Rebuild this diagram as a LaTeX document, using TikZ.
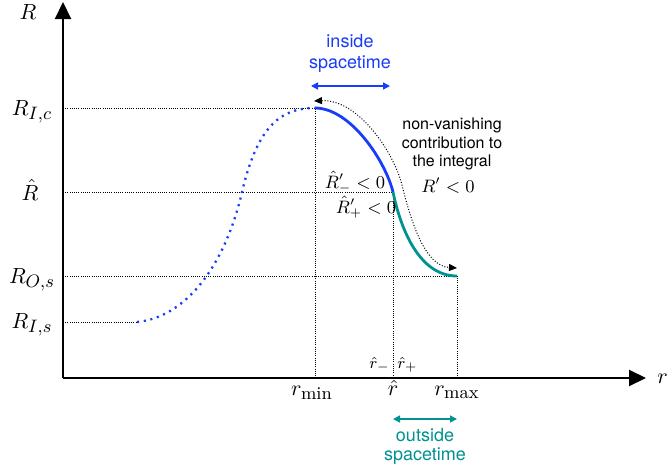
\documentclass[tikz,border=0pt]{standalone}
\usepackage{fontspec}
\setsansfont{TeX Gyre Heros}
\DeclareMathSizes{11}{11}{9}{7}
\usetikzlibrary{arrows.meta}
\definecolor{cblue}{RGB}{25,60,250}
\definecolor{cteal}{RGB}{0,145,145}
\begin{document}
\begin{tikzpicture}[x=0.5pt,y=-0.5pt,
  axis/.style={line width=1pt,-{Triangle[length=8.5pt,width=8pt]}},
  guide/.style={line width=0.5pt,dash pattern=on 0.5pt off 0.6pt},
  mlab/.style={inner sep=0pt,font=\fontsize{11}{13}\selectfont},
  slab/.style={inner sep=0pt,font=\fontsize{9}{11}\selectfont},
  tlab/.style={inner sep=0pt,align=center},
  spanarrow/.style={line width=0.7pt,{Triangle[length=3.5pt,width=3.5pt]}-{Triangle[length=3.5pt,width=3.5pt]}},
  dotarrow/.style={line width=0.5pt,dash pattern=on 0.5pt off 0.9pt,{Triangle[length=4pt,width=3.5pt]}-{Triangle[length=4pt,width=3.5pt]}}]
\useasboundingbox (0,0) rectangle (668,471);
% key points
\coordinate (O) at (63,378);
\coordinate (ytip) at (63,2);
\coordinate (xtip) at (646,378);
\coordinate (Pc) at (315,108);
\coordinate (Ph) at (393,192);
\coordinate (Po) at (457,276);
\coordinate (Ps) at (137,322);
\coordinate (Pm) at (242,192);
\coordinate (yIc) at (63,108);
\coordinate (yRh) at (63,192);
\coordinate (yOs) at (63,276);
\coordinate (yIs) at (63,322);
\coordinate (xmin) at (315,378);
\coordinate (xh) at (393,378);
\coordinate (xmax) at (457,378);
% guides
\draw[guide] (yIc) -- (Pc) -- (xmin);
\draw[guide] (yRh) -- (Ph) -- (xh);
\draw[guide] (yOs) -- (Po) -- (xmax);
\draw[guide] (yIs) -- (Ps);
% axes
\draw[axis] (O) -- (ytip);
\draw[axis] (O) -- (xtip);
% curves
\draw[cblue,line width=1.15pt,dash pattern=on 1.05pt off 2.35pt] (Ps) .. controls (188,317) and (226,262) .. (Pm) .. controls (258,124) and (282,108) .. (Pc);
\draw[cblue,line width=1.4pt] (Pc) .. controls (350,108) and (385,160) .. (Ph);
\draw[cteal,line width=1.4pt] (Ph) .. controls (400,226) and (418,276) .. (Po);
% dotted arrow
\coordinate (a1) at (314,101);
\coordinate (am) at (402,185);
\coordinate (a2) at (457,268);
\draw[dotarrow] (a1) .. controls (357,99) and (393,150) .. (am) .. controls (412,226) and (426,266) .. (a2);
% span arrows
\coordinate (ia1) at (311,86);
\coordinate (ia2) at (390,86);
\draw[spanarrow,cblue] (ia1) -- (ia2);
\coordinate (oa1) at (393,419);
\coordinate (oa2) at (457,419);
\draw[spanarrow,cteal] (oa1) -- (oa2);
% texts
\node[tlab,text=cblue,font=\sffamily\fontsize{9}{10.5}\selectfont] (inside) at (350,53) {inside\\spacetime};
\node[tlab,text=cteal,font=\sffamily\fontsize{9}{9.5}\selectfont] (outside) at (425,446) {outside\\spacetime};
\node[tlab,font=\sffamily\fontsize{8}{9.25}\selectfont] (nv) at (452,144) {non-vanishing\\contribution to\\the integral};
% math labels
\node[mlab] (lR) at (28,12) {$R$};
\node[mlab,anchor=base west] (lr) at (657,383) {$r$};
\node[mlab,anchor=base] (lIc) at (32,115) {$R_{I,c}$};
\node[mlab,anchor=base] (lRh) at (30,200) {$\hat R$};
\node[mlab,anchor=base] (lOs) at (32,283) {$R_{O,s}$};
\node[mlab,anchor=base] (lIs) at (32,328) {$R_{I,s}$};
\node[mlab,anchor=base] (lrmin) at (312,395) {$r_{\min}$};
\node[mlab,anchor=base] (lrh) at (393,395) {$\hat r$};
\node[mlab,anchor=base] (lrmax) at (457,395) {$r_{\max}$};
\node[inner sep=0pt,font=\fontsize{8}{10}\selectfont,anchor=base east] (lrm) at (390,368) {$\hat r_-$};
\node[inner sep=0pt,font=\fontsize{8}{10}\selectfont,anchor=base west] (lrp) at (397,368) {$\hat r_+$};
\node[slab,anchor=base] (lRm) at (355,188) {$\hat R'_- < 0$};
\node[slab,anchor=base] (lRp) at (366,213) {$\hat R'_+ < 0$};
\node[slab,anchor=base] (lRp0) at (448,192) {$R' < 0$};
\end{tikzpicture}
\end{document}
